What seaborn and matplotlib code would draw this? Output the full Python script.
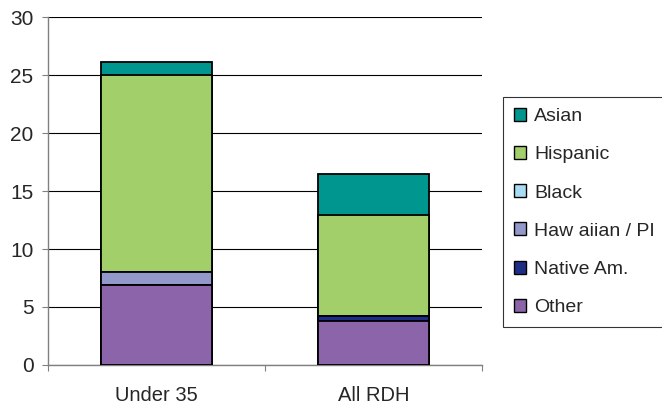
import pandas as pd
import numpy as np
import matplotlib
matplotlib.use("Agg")
import matplotlib.pyplot as plt
import seaborn as sns

# data
groups = ["Under 35", "All RDH"]
# stacking order, bottom to top
series = ["Other", "Native Am.", "Haw aiian / PI", "Black", "Hispanic", "Asian"]
other = [6.9, 3.8]
native_am = [0.0, 0.4]
hawaiian_pi = [1.1, 0.0]
black = [0.0, 0.0]
hispanic = [17.0, 8.7]
asian = [1.1, 3.6]

colors = {
    "Asian": "#009690",
    "Hispanic": "#A2CF6A",
    "Black": "#A8DCF4",
    "Haw aiian / PI": "#9398CB",
    "Native Am.": "#1E2D86",
    "Other": "#8C64AA",
}

df = pd.DataFrame({
    "group": groups,
    "Other": other,
    "Native Am.": native_am,
    "Haw aiian / PI": hawaiian_pi,
    "Black": black,
    "Hispanic": hispanic,
    "Asian": asian,
})
cum = df[series].cumsum(axis=1)
cum["group"] = df["group"]

sns.set_style("white")
plt.rcParams["font.family"] = ["Liberation Sans", "DejaVu Sans"]

fig = plt.figure(figsize=(6.62, 4.08), dpi=100)
ax = fig.add_axes([48 / 662, 1 - 365 / 408, (482 - 48) / 662, (365 - 17) / 408])

# draw cumulative totals from the top layer down so lower layers sit on top
for name in reversed(series):
    sns.barplot(data=cum, x="group", y=name, order=groups, color=colors[name],
                width=0.507, edgecolor="black", linewidth=1.3, saturation=1,
                ax=ax, zorder=3)

ax.set_xlim(-0.5, 1.5)
ax.set_ylim(0, 30)
ax.set_yticks(np.arange(0, 31, 5))
ax.yaxis.grid(True, color="black", linewidth=0.8, zorder=0)
ax.set_axisbelow(True)
ax.set_xlabel("")
ax.set_ylabel("")

for side in ["top", "right"]:
    ax.spines[side].set_visible(False)
for side in ["left", "bottom"]:
    ax.spines[side].set_color("#808080")
    ax.spines[side].set_linewidth(1.0)

ax.tick_params(axis="y", which="major", left=True, length=4.5, width=0.8,
               color="#808080", labelsize=15, pad=6)
ax.tick_params(axis="x", which="major", bottom=True, length=0, labelsize=14.5, pad=15)
ax.set_xticks([-0.5, 0.5, 1.5], minor=True)
ax.tick_params(axis="x", which="minor", bottom=True, length=4, width=0.8, color="#808080")

legend_order = ["Asian", "Hispanic", "Black", "Haw aiian / PI", "Native Am.", "Other"]
handles = [plt.Rectangle((0, 0), 1, 1, facecolor=colors[n], edgecolor="black", linewidth=1.0)
           for n in legend_order]
leg = fig.legend(handles, legend_order, loc="center left",
                 bbox_to_anchor=(503 / 662, 1 - 212 / 408), fontsize=14,
                 frameon=True, fancybox=False, edgecolor="black",
                 handlelength=0.65, handleheight=0.65, handletextpad=0.4,
                 labelspacing=1.07, borderpad=0.55, borderaxespad=0)
leg.get_frame().set_linewidth(0.8)

fig.savefig("out.png", dpi=100)
